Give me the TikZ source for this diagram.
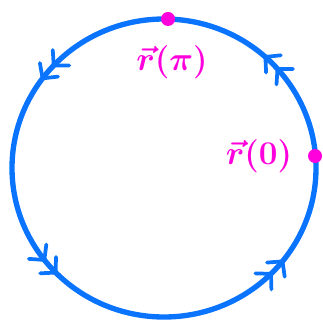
\documentclass[tikz,border=0pt]{standalone}
\usepackage{amsmath,bm}
\usetikzlibrary{decorations.markings,arrows.meta}
\definecolor{cblue}{RGB}{10,116,255}
\definecolor{cmag}{RGB}{255,0,220}
\tikzset{
  orbit/.style={draw=cblue,line width=4pt,line cap=round},
  pt/.style={circle,fill=cmag,inner sep=0pt,minimum size=10.5pt},
  lbl/.style={text=cmag,font=\fontsize{28}{30}\selectfont},
  barb/.tip={Straight Barb[length=8pt,width=17pt,line width=2.8pt,round]}
}
\begin{document}
\begin{tikzpicture}[x=0.75pt,y=-0.75pt]
\useasboundingbox (0,0) rectangle (323,320);
\draw[orbit,
  decoration={markings,
    mark=at position 0.132 with {\arrow{barb}},
    mark=at position 0.150 with {\arrow{barb}},
    mark=at position 0.357 with {\arrow{barb}},
    mark=at position 0.375 with {\arrow{barb}},
    mark=at position 0.627 with {\arrow{barb}},
    mark=at position 0.645 with {\arrow{barb}},
    mark=at position 0.867 with {\arrow{barb}},
    mark=at position 0.885 with {\arrow{barb}}},
  postaction={decorate}]
  (164,19) arc[start angle=-90,end angle=-450,x radius=152,y radius=149];
\node[pt] (top) at (168,19) {};
\node[pt] (right) at (315,156) {};
\node[lbl] (lpi) at (172,62) {$\bm{\vec r(\pi)}$};
\node[lbl] (lzero) at (259,156) {$\bm{\vec r(0)}$};
\end{tikzpicture}
\end{document}
